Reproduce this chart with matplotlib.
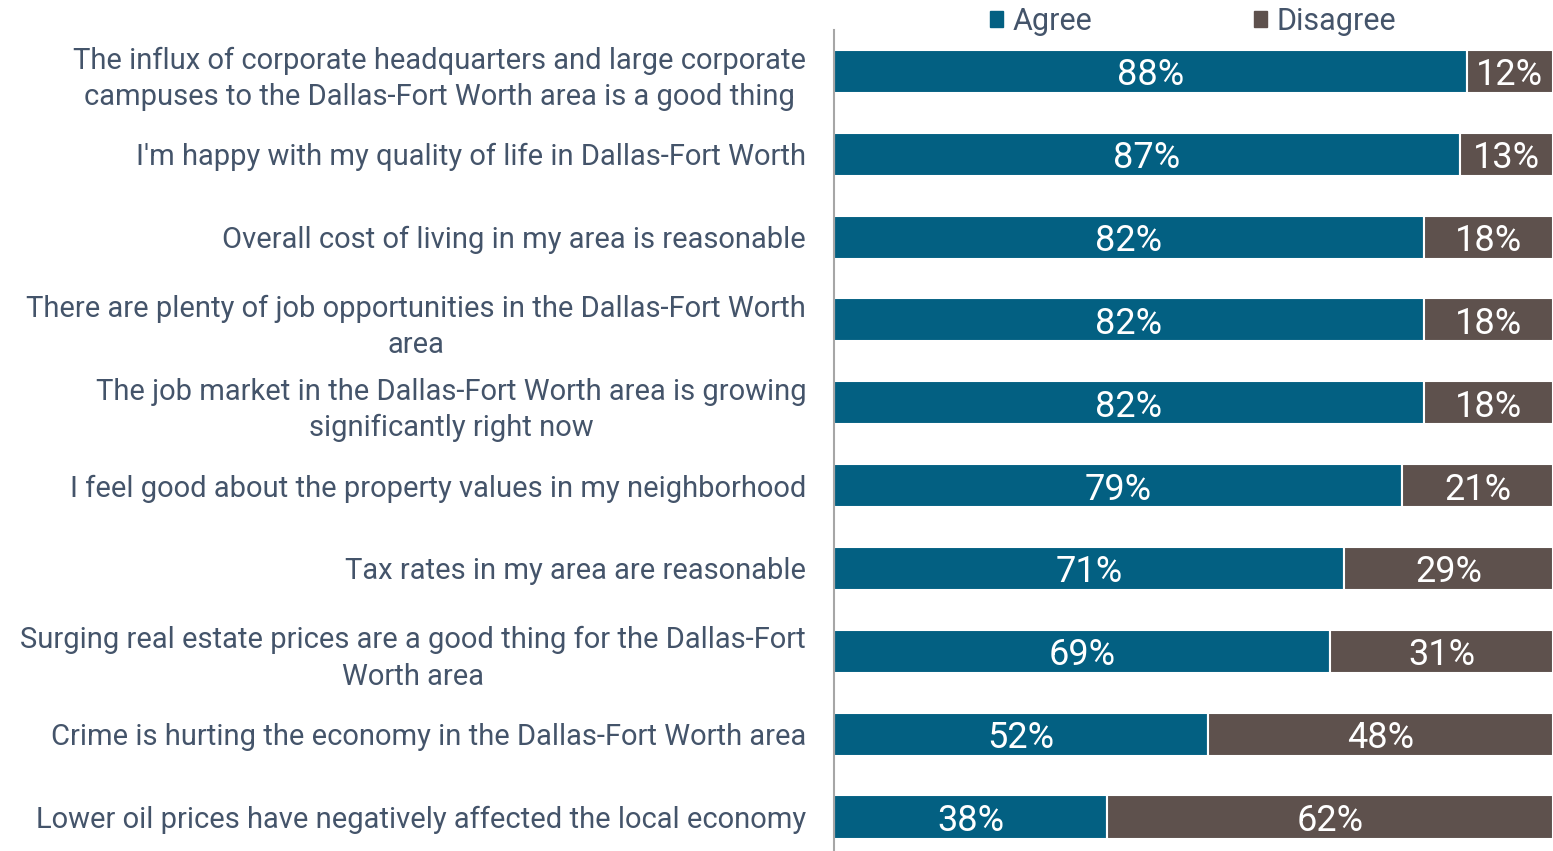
import matplotlib.pyplot as plt
from matplotlib.patches import Patch

# survey statements (top to bottom)
labels = [
    "The influx of corporate headquarters and large corporate\ncampuses to the Dallas-Fort Worth area is a good thing",
    "I'm happy with my quality of life in Dallas-Fort Worth",
    "Overall cost of living in my area is reasonable",
    "There are plenty of job opportunities in the Dallas-Fort Worth\narea",
    "The job market in the Dallas-Fort Worth area is growing\nsignificantly right now",
    "I feel good about the property values in my neighborhood",
    "Tax rates in my area are reasonable",
    "Surging real estate prices are a good thing for the Dallas-Fort\nWorth area",
    "Crime is hurting the economy in the Dallas-Fort Worth area",
    "Lower oil prices have negatively affected the local economy",
]
agree = [88, 87, 82, 82, 82, 79, 71, 69, 52, 38]
disagree = [12, 13, 18, 18, 18, 21, 29, 31, 48, 62]

agree_color = "#036082"
disagree_color = "#5E514D"
text_color = "#44546A"

plt.rcParams['font.family'] = ['Roboto', 'DejaVu Sans']

fig = plt.figure(figsize=(15.53, 8.51), dpi=100)
ax = fig.add_axes([834 / 1553, 0, 1 - 834 / 1553, 1 - 30 / 851])

ypos = list(range(len(labels)))
ax.barh(ypos, agree, height=0.52, color=agree_color, edgecolor="white", linewidth=1.5)
ax.barh(ypos, disagree, left=agree, height=0.52, color=disagree_color, edgecolor="white", linewidth=1.5)

for i in ypos:
    ax.text(agree[i] / 2, i, f"{agree[i]}%", ha="center", va="center_baseline", color="white", fontsize=26)
    ax.text(agree[i] + disagree[i] / 2, i, f"{disagree[i]}%", ha="center", va="center_baseline",
            color="white", fontsize=26)

ax.set_xlim(0, 100)
ax.set_ylim(9.41, -0.5)
ax.set_yticks(ypos)
ax.set_yticklabels(labels, fontsize=21, color=text_color, multialignment="center", linespacing=1.38)
ax.tick_params(axis="y", length=0, pad=20)
ax.set_xticks([])
for s in ["top", "right", "bottom"]:
    ax.spines[s].set_visible(False)
ax.spines["left"].set_color("#A6A6A6")
ax.spines["left"].set_linewidth(1.5)

handles = [Patch(color=agree_color, label="Agree"), Patch(color=disagree_color, label="Disagree")]
fig.legend(handles=handles, loc="center", bbox_to_anchor=(1193 / 1553, 1 - 21 / 851), ncol=2,
           frameon=False, fontsize=22, labelcolor=text_color, handlelength=0.42, handleheight=0.42,
           handletextpad=0.3, columnspacing=5.3, borderpad=0)

plt.savefig("out.png", dpi=100)
